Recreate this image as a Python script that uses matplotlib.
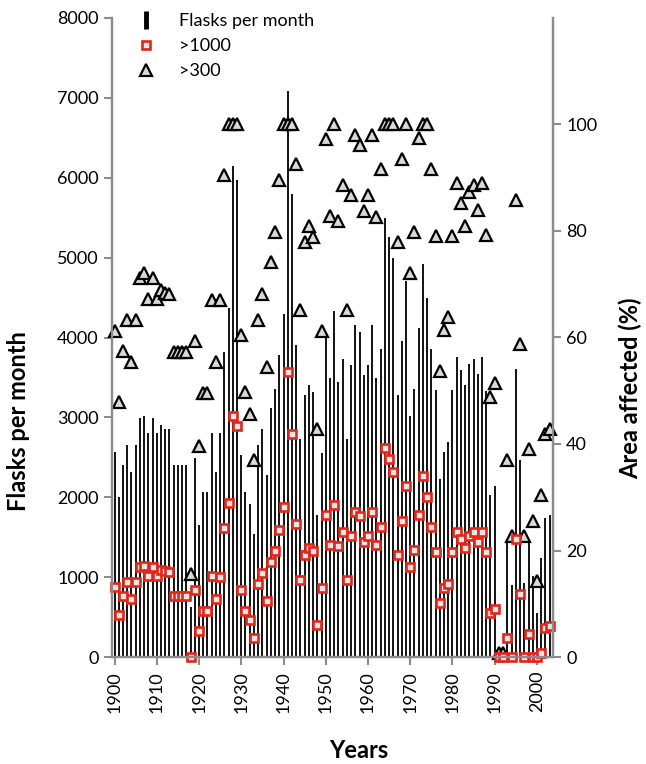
import matplotlib
matplotlib.use("Agg")
import matplotlib.pyplot as plt
from matplotlib.lines import Line2D

plt.rcParams['font.family'] = ['Lato', 'DejaVu Sans']

years = list(range(1900, 2004))

# flasks per month (left axis), one line per year
flasks = [2570, 2000, 2400, 2650, 2320, 2650, 2990, 3020, 2810, 2990,
          2810, 2900, 2860, 2860, 2400, 2400, 2400, 2400, 630, 2490,
          1650, 2070, 2070, 2810, 2320, 2810, 3820, 4370, 6150, 5970,
          2530, 2060, 1910, 1535, 2650, 2860, 2280, 3120, 3360, 3780,
          4290, 7080, 5800, 3910, 2730, 3280, 3400, 3320, 1780, 2560,
          4020, 3490, 4330, 3440, 3730, 2730, 3650, 4160, 4070, 3530,
          3650, 4160, 3490, 3860, 5500, 5260, 5000, 3280, 3950, 4710,
          3020, 3360, 4120, 4920, 4500, 3860, 3340, 2230, 2570, 2690,
          3340, 3760, 3590, 3400, 3670, 3730, 3540, 3760, 3330, 2030,
          2140, 60, 60, 1440, 900, 3610, 2470, 930, 1470, 1020,
          550, 1240, 1740, 1780]

# area affected (%) with >1000 flasks
area_1000 = [13.2, 7.8, 11.5, 14.0, 10.9, 14.0, 16.9, 17.1, 15.3, 16.9,
             15.3, 16.4, 16.2, 16.0, 11.5, 11.5, 11.5, 11.5, 0.0, 12.5,
             4.9, 8.7, 8.7, 15.3, 10.9, 15.1, 24.2, 28.9, 45.3, 43.4,
             12.6, 8.6, 7.0, 3.5, 13.8, 15.7, 10.5, 17.9, 20.0, 23.9,
             28.2, 53.5, 41.8, 24.9, 14.4, 19.2, 20.4, 19.9, 6.1, 12.9,
             26.7, 21.1, 28.6, 20.8, 23.5, 14.4, 22.7, 27.3, 26.4, 21.6,
             22.7, 27.3, 21.1, 24.5, 39.3, 37.1, 34.7, 19.2, 25.5, 32.1,
             16.9, 20.1, 26.7, 34.0, 30.1, 24.5, 19.7, 10.1, 12.9, 13.8,
             19.7, 23.5, 22.2, 20.4, 22.8, 23.5, 21.6, 23.5, 19.7, 8.2,
             9.1, 0.0, 0.0, 3.5, 0.0, 22.2, 11.9, 0.0, 4.4, 0.0,
             0.0, 0.8, 5.4, 5.9]

# area affected (%) with >300 flasks
area_300 = [61.2, 47.8, 57.4, 63.2, 55.4, 63.2, 71.1, 72.2, 67.3, 71.1,
            67.3, 69.0, 68.3, 68.1, 57.3, 57.3, 57.3, 57.3, 15.5, 59.3,
            39.7, 49.5, 49.5, 67.0, 55.4, 67.0, 90.5, 100, 100, 100,
            60.5, 49.7, 45.7, 37.0, 63.2, 68.1, 54.5, 74.1, 79.8, 89.6,
            100, 100, 100, 92.5, 65.2, 77.9, 80.9, 78.8, 42.9, 61.2,
            97.3, 82.8, 100, 81.8, 88.6, 65.2, 86.7, 98.1, 96.2, 83.8,
            86.7, 98.1, 82.6, 91.6, 100, 100, 100, 77.9, 93.6, 100,
            72.2, 79.8, 97.4, 100, 100, 91.6, 79.1, 53.7, 61.4, 63.9,
            79.0, 89.1, 85.3, 80.9, 87.4, 88.7, 84.0, 89.1, 79.3, 48.8,
            51.4, 0.7, 0.7, 37.0, 22.8, 85.8, 58.8, 22.8, 39.1, 25.5,
            14.3, 30.5, 41.8, 42.9]

fig = plt.figure(figsize=(6.46, 7.64), dpi=100)
ax = fig.add_axes([112 / 646, 1 - 657 / 764, 441 / 646, 639 / 764])
ax2 = ax.twinx()

ax.vlines(years, 0, flasks, color='#111111', lw=1.4)

ax2.plot(years, area_300, ls='none', marker='^', ms=9, mfc='#d9d9d9',
         mec='black', mew=1.6, clip_on=False)
ax2.plot(years, area_1000, ls='none', marker='s', ms=5.2, mfc='#e6e6e6',
         mec='#e3261b', mew=1.9, clip_on=False)

ax.set_xlim(1899.4, 2003.8)
ax.set_ylim(0, 8000)
ax2.set_ylim(0, 120)
ax.set_xticks(range(1900, 2001, 10))
ax.set_yticks(range(0, 8001, 1000))
ax2.set_yticks(range(0, 101, 20))

gray = '#8c8c8c'
for a in (ax, ax2):
    a.spines['top'].set_visible(False)
    for s in ('left', 'right', 'bottom'):
        a.spines[s].set_color(gray)
        a.spines[s].set_linewidth(1.6)
    a.tick_params(direction='out', length=6, width=1.5, color=gray,
                  labelsize=13, labelcolor='black')
ax.tick_params(axis='x', labelrotation=90, pad=4)

ax.set_ylabel('Flasks per month', fontsize=17, fontweight='bold')
ax.yaxis.set_label_coords(-0.186, 0.37)
ax2.set_ylabel('Area affected (%)', fontsize=17, fontweight='bold',
               rotation=90)
ax2.yaxis.set_label_coords(1.148, 0.42)
ax.set_xlabel('Years', fontsize=17, fontweight='bold')
ax.xaxis.set_label_coords(0.56, -0.128)

handles = [
    Line2D([], [], ls='none', marker='|', ms=13, mew=3.5, color='black'),
    Line2D([], [], ls='none', marker='s', ms=5.2, mfc='#e6e6e6',
           mec='#e3261b', mew=1.9),
    Line2D([], [], ls='none', marker='^', ms=9, mfc='#d9d9d9',
           mec='black', mew=1.6),
]
ax2.legend(handles, ['Flasks per month', '>1000', '>300'],
           loc='upper left', bbox_to_anchor=(137 / 646, 1 - 13 / 764),
           bbox_transform=fig.transFigure, frameon=False, fontsize=13,
           handlelength=1.0, handletextpad=1.3, borderpad=0,
           borderaxespad=0, labelspacing=0.5)

fig.savefig('out.png', dpi=100)
